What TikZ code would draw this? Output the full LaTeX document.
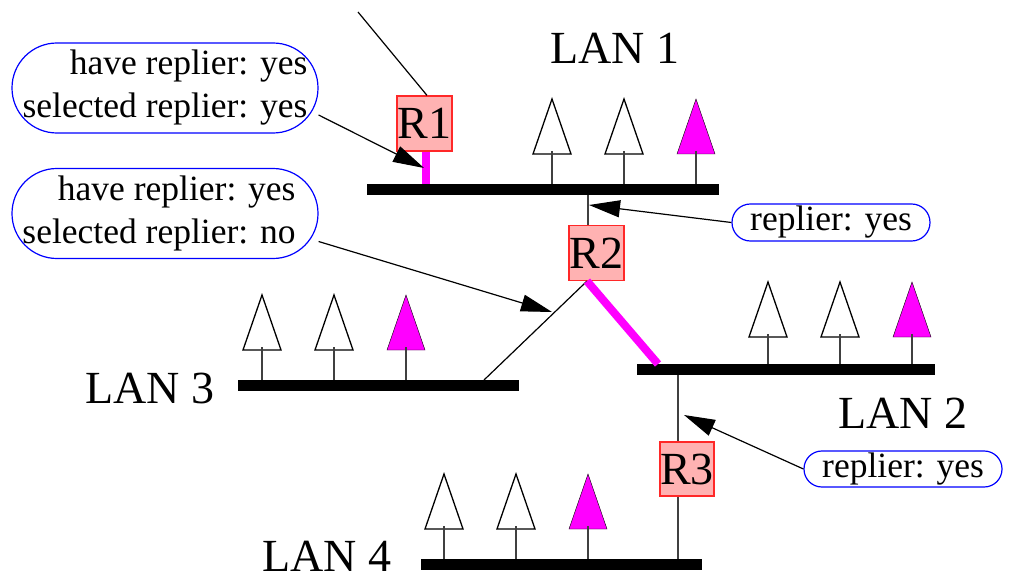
\documentclass[tikz,border=0pt]{standalone}
\usepackage{fontspec}
\setmainfont{Liberation Serif}
\usetikzlibrary{arrows.meta,calc}
\definecolor{rfill}{RGB}{255,178,178}
\definecolor{rdraw}{RGB}{255,40,40}
\definecolor{stemc}{RGB}{64,64,64}
\definecolor{mag}{RGB}{255,0,255}
\definecolor{cblue}{RGB}{0,0,255}
\begin{document}
\begin{tikzpicture}[x=1pt,y=-1pt,
  bus/.style={line width=11pt, line cap=butt},
  stemline/.style={line width=1.8pt, draw=stemc},
  thinline/.style={line width=1.2pt},
  magline/.style={line width=8pt, draw=mag, line cap=butt},
  router/.style={draw=rdraw, fill=rfill, line width=1.2pt, minimum width=55pt, minimum height=55pt, inner sep=0pt, font=\fontsize{46}{50}\selectfont},
  lanlabel/.style={anchor=base west, inner sep=0pt, font=\fontsize{46}{50}\selectfont},
  callout/.style={rectangle, draw=cblue, line width=1.2pt, inner sep=0pt, fill=white, font=\fontsize{35.5}{43}\selectfont, align=right},
  arr/.style={thinline, -{Triangle[length=31pt,width=17pt]}},
  hostw/.style={draw=black, fill=white, line width=1.3pt},
  hostm/.style={fill=mag}]
\useasboundingbox (0,0) rectangle (1009,577);

% hosts
\foreach \x/\t/\b/\s in {552/99/184/hostw, 624/99/184/hostw, 696/99/184/hostm,
                         262/295/380/hostw, 334/295/380/hostw, 406/295/380/hostm,
                         768/282/364/hostw, 840/282/364/hostw, 912/282/364/hostm,
                         444/474/559/hostw, 516/474/559/hostw, 588/474/559/hostm}{
  \draw[\s] (\x,\t) -- ++(-19,55) -- ++(38,0) -- cycle;
  \draw[stemline] (\x,\t+52) -- (\x,\b);
}

% buses
\coordinate (l1w) at (367,189.5); \coordinate (l1e) at (719,189.5);
\coordinate (l3w) at (238,385.5); \coordinate (l3e) at (519,385.5);
\coordinate (l2w) at (637,369.5); \coordinate (l2e) at (935,369.5);
\coordinate (l4w) at (421,564.5); \coordinate (l4e) at (702,564.5);
\draw[bus] (l1w) -- (l1e);
\draw[bus] (l3w) -- (l3e);
\draw[bus] (l2w) -- (l2e);
\draw[bus] (l4w) -- (l4e);

% routers
\node[router] (R1) at (424.5,123.5) {R1};
\node[router] (R2) at (596.5,253) {R2};
\node[router, minimum width=54pt, minimum height=54pt] (R3) at (687,469) {R3};

% router links
\coordinate (s1) at (426,184);
\draw[magline] (s1) -- (s1 |- R1.south);
\coordinate (r2t) at (588,195);
\draw[stemline] (r2t) -- (r2t |- R2.north);
\coordinate (r2b) at ([xshift=-9.5pt]R2.south);
\coordinate (l3j) at (484,380);
\coordinate (l2j) at (658,364);
\draw[thinline] (r2b) -- (l3j);
\draw[magline] (r2b) -- (l2j);
\coordinate (r3t) at (678,375);
\coordinate (r3b) at (678,559);
\draw[stemline] (r3t) -- (r3t |- R3.north);
\draw[stemline] (r3b) -- (r3b |- R3.south);
\coordinate (topend) at (358,12);
\draw[thinline] (topend) -- ([xshift=2.5pt]R1.north);

% labels
\node[lanlabel] (L1) at (550,64) {LAN 1};
\node[lanlabel] (L3) at (85,403) {LAN 3};
\node[lanlabel] (L2) at (838,428) {LAN 2};
\node[lanlabel] (L4) at (262,571) {LAN 4};

% callouts
\node[callout, minimum width=306pt, minimum height=90pt, rounded corners=44.9pt] (c1) at (165,88) {have replier: yes\\selected replier: yes};
\node[callout, minimum width=306pt, minimum height=90pt, rounded corners=44.9pt] (c2) at (165,213.5) {have replier: yes\hspace*{12pt}\\selected replier: no\hspace*{12pt}};
\node[callout, minimum width=198pt, minimum height=37pt, rounded corners=18.4pt] (c3) at (831,222.5) {replier: yes};
\node[callout, minimum width=198pt, minimum height=36pt, rounded corners=17.9pt] (c4) at (903,469) {replier: yes};

% arrows
\coordinate (t1) at (424,168);
\coordinate (t2) at (552,312);
\coordinate (t3) at (589,205);
\coordinate (t4) at (684,415);
\draw[arr] ([yshift=-27pt]c1.east) -- (t1);
\draw[arr] ([yshift=-28pt]c2.east) -- (t2);
\draw[arr] (c3.west) -- (t3);
\draw[arr] (c4.west) -- (t4);
\end{tikzpicture}
\end{document}
